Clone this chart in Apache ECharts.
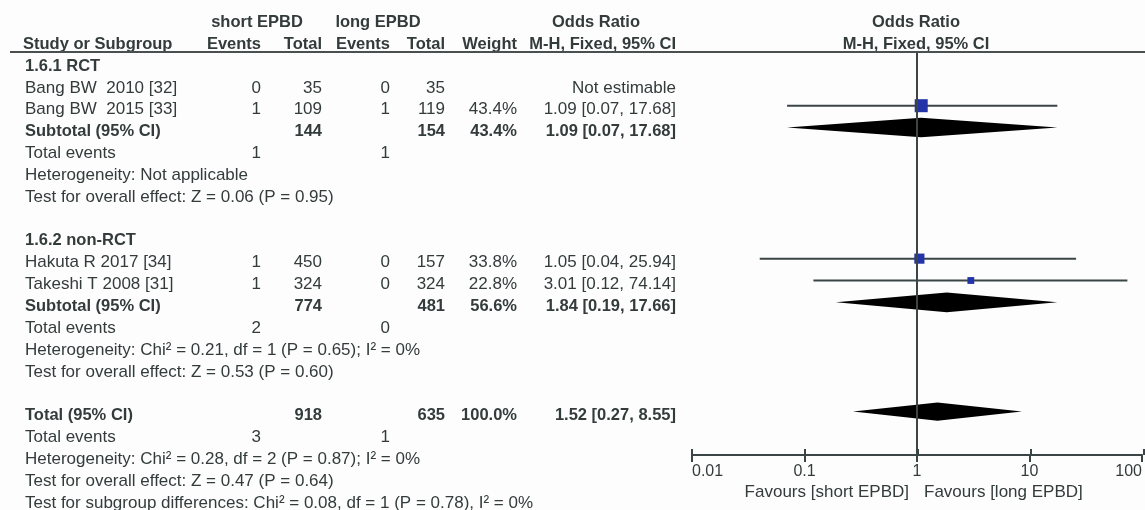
<!DOCTYPE html>
<html>
<head>
<meta charset="utf-8">
<script src="https://cdn.jsdelivr.net/npm/echarts@6/dist/echarts.min.js"></script>
<style>
  html, body { margin: 0; padding: 0; background: #fdfdfd; }
  #chart { width: 1145px; height: 510px; }
</style>
</head>
<body>
<div id="chart"></div>
<script>
// ---------------- data ----------------
const studyNames   = ['Bang BW  2010 [32]', 'Bang BW  2015 [33]', 'Hakuta R 2017 [34]', 'Takeshi T 2008 [31]'];
const studyRows    = [1, 2, 9, 10];
const shortEvents  = [0, 1, 1, 1];
const shortTotals  = [35, 109, 450, 324];
const longEvents   = [0, 1, 0, 0];
const longTotals   = [35, 119, 157, 324];
const studyWeights = [null, 43.4, 33.8, 22.8];
const studyOR      = [null, 1.09, 1.05, 3.01];
const studyLow     = [null, 0.07, 0.04, 0.12];
const studyHigh    = [null, 17.68, 25.94, 74.14];

const pooledNames       = ['Subtotal (95% CI)', 'Subtotal (95% CI)', 'Total (95% CI)'];
const pooledRows        = [3, 11, 16];
const pooledShortTotals = [144, 774, 918];
const pooledLongTotals  = [154, 481, 635];
const pooledWeights     = [43.4, 56.6, 100.0];
const pooledOR          = [1.09, 1.84, 1.52];
const pooledLow         = [0.07, 0.19, 0.27];
const pooledHigh        = [17.68, 17.66, 8.55];

const eventRows  = [4, 12, 17];
const eventShort = [1, 2, 3];
const eventLong  = [1, 0, 1];

const groupNames = ['1.6.1 RCT', '1.6.2 non-RCT'];
const groupRows  = [0, 8];

const noteTexts = [
  'Heterogeneity: Not applicable',
  'Test for overall effect: Z = 0.06 (P = 0.95)',
  'Heterogeneity: Chi\u00b2 = 0.21, df = 1 (P = 0.65); I\u00b2 = 0%',
  'Test for overall effect: Z = 0.53 (P = 0.60)',
  'Heterogeneity: Chi\u00b2 = 0.28, df = 2 (P = 0.87); I\u00b2 = 0%',
  'Test for overall effect: Z = 0.47 (P = 0.64)',
  'Test for subgroup differences: Chi\u00b2 = 0.08, df = 1 (P = 0.78), I\u00b2 = 0%'
];
const noteRows = [5, 6, 13, 14, 18, 19, 20];

const tickLabels = ['0.01', '0.1', '1', '10', '100'];
const favourLabels = ['Favours [short EPBD]', 'Favours [long EPBD]'];

// ---------------- layout ----------------
const W = 1145, H = 510;
const ROW_H = 21.85, ROW0 = 62, TEXT_DY = 4;
const COL = { label: 25, sEv: 261, sTot: 322, lEv: 390, lTot: 445, weight: 517, ci: 676 };
const PLOT = { left: 692, right: 1, top: 52, axisY: 455 };
const TEXT = '#333b3b';
const LINE = '#3b4545';
const FONT = '"Liberation Sans", Arial, sans-serif';

const fmtCI = (o, l, h) => o == null ? 'Not estimable' : `${o.toFixed(2)} [${l.toFixed(2)}, ${h.toFixed(2)}]`;
const fmtW = w => w == null ? '' : `${w.toFixed(1)}%`;

// table text items
const items = [];
function add(x, row, text, align, bold, size) {
  if (text === '' || text == null) return;
  items.push({ x, row, text: String(text), align, bold: !!bold, size: size || (bold ? 16.5 : 17) });
}
// headers
add(257, -2, 'short EPBD', 'center', true);
add(378, -2, 'long EPBD', 'center', true);
add(596, -2, 'Odds Ratio', 'center', true);
add(COL.label - 2, -1, 'Study or Subgroup', 'left', true);
add(COL.sEv, -1, 'Events', 'right', true);
add(COL.sTot, -1, 'Total', 'right', true);
add(COL.lEv, -1, 'Events', 'right', true);
add(COL.lTot, -1, 'Total', 'right', true);
add(COL.weight, -1, 'Weight', 'right', true);
add(COL.ci, -1, 'M-H, Fixed, 95% CI', 'right', true);

groupNames.forEach((g, i) => add(COL.label, groupRows[i], g, 'left', true));
studyNames.forEach((s, i) => {
  const r = studyRows[i];
  add(COL.label, r, s, 'left');
  add(COL.sEv, r, shortEvents[i], 'right');
  add(COL.sTot, r, shortTotals[i], 'right');
  add(COL.lEv, r, longEvents[i], 'right');
  add(COL.lTot, r, longTotals[i], 'right');
  add(COL.weight, r, fmtW(studyWeights[i]), 'right');
  add(COL.ci, r, fmtCI(studyOR[i], studyLow[i], studyHigh[i]), 'right');
});
pooledNames.forEach((s, i) => {
  const r = pooledRows[i];
  add(COL.label, r, s, 'left', true);
  add(COL.sTot, r, pooledShortTotals[i], 'right', true);
  add(COL.lTot, r, pooledLongTotals[i], 'right', true);
  add(COL.weight, r, fmtW(pooledWeights[i]), 'right', true);
  add(COL.ci, r, fmtCI(pooledOR[i], pooledLow[i], pooledHigh[i]), 'right', true);
});
eventRows.forEach((r, i) => {
  add(COL.label, r, 'Total events', 'left');
  add(COL.sEv, r, eventShort[i], 'right');
  add(COL.lEv, r, eventLong[i], 'right');
});
noteTexts.forEach((t, i) => add(COL.label, noteRows[i], t, 'left'));

// forest data
const studyMarks = [];
studyOR.forEach((o, i) => {
  if (o != null) studyMarks.push([o, studyRows[i], studyLow[i], studyHigh[i], studyWeights[i]]);
});
const pooledMarks = pooledOR.map((o, i) => [o, pooledRows[i], pooledLow[i], pooledHigh[i], i === 2 ? 9.2 : 9.8]);

const tableYMin = -ROW0 / ROW_H, tableYMax = (H - ROW0) / ROW_H;
const plotYMin = (PLOT.top - ROW0) / ROW_H, plotYMax = (PLOT.axisY - ROW0) / ROW_H;

const plotGrid = { left: PLOT.left, right: PLOT.right, top: PLOT.top, bottom: H - PLOT.axisY };

const chart = echarts.init(document.getElementById('chart'), null, { renderer: 'canvas' });
chart.setOption({
  animation: false,
  backgroundColor: '#fdfdfd',
  grid: [
    { left: 0, right: 0, top: 0, bottom: 0 },
    Object.assign({}, plotGrid),
    Object.assign({}, plotGrid)
  ],
  xAxis: [
    { gridIndex: 0, type: 'value', min: 0, max: W, show: false },
    {
      gridIndex: 1, type: 'log', logBase: 10, min: 0.01, max: 100, position: 'bottom',
      axisLine: { show: true, onZero: false, lineStyle: { color: LINE, width: 2 } },
      axisTick: { show: true, length: 7, lineStyle: { color: LINE, width: 2 } },
      minorTick: { show: false },
      splitLine: { show: false },
      axisLabel: {
        show: true, margin: 9, color: TEXT, fontSize: 16, fontFamily: FONT,
        alignMinLabel: 'left', alignMaxLabel: 'right',
        formatter: (v, idx) => tickLabels[idx]
      }
    },
    {
      gridIndex: 2, type: 'log', logBase: 10, min: 0.01, max: 100, position: 'bottom',
      axisLine: { show: false, onZero: false },
      axisTick: { show: true, inside: true, length: 6, lineStyle: { color: LINE, width: 2 } },
      minorTick: { show: false },
      splitLine: { show: false },
      axisLabel: { show: false }
    }
  ],
  yAxis: [
    { gridIndex: 0, type: 'value', inverse: true, min: tableYMin, max: tableYMax, show: false },
    { gridIndex: 1, type: 'value', inverse: true, min: plotYMin, max: plotYMax, show: false },
    { gridIndex: 2, type: 'value', inverse: true, min: plotYMin, max: plotYMax, show: false }
  ],
  graphic: [
    { type: 'line', shape: { x1: 10, y1: PLOT.top, x2: W, y2: PLOT.top }, style: { stroke: '#4a5050', lineWidth: 2 }, z: 10 }
  ],
  series: [
    {
      type: 'custom', xAxisIndex: 0, yAxisIndex: 0,
      data: items.map(d => [d.x, d.row]),
      renderItem: (params, api) => {
        const d = items[params.dataIndex];
        const p = api.coord([api.value(0), api.value(1)]);
        return {
          type: 'text', x: p[0], y: p[1] + TEXT_DY,
          style: {
            text: d.text, align: d.align, verticalAlign: 'middle',
            fontFamily: FONT, fontSize: d.size, fontWeight: d.bold ? 'bold' : 'normal', fill: TEXT
          }
        };
      }
    },
    {
      // keeps the inside-tick helper axis alive
      type: 'custom', xAxisIndex: 2, yAxisIndex: 2,
      data: [[1, 0]],
      renderItem: () => ({ type: 'group', children: [] })
    },
    {
      // right-side header
      type: 'custom', xAxisIndex: 1, yAxisIndex: 1, clip: false,
      data: [[1, -2, 'Odds Ratio'], [1, -1, 'M-H, Fixed, 95% CI']],
      renderItem: (params, api) => {
        const p = api.coord([api.value(0), api.value(1)]);
        return {
          type: 'text', x: p[0] - 1, y: p[1] + TEXT_DY,
          style: {
            text: api.value(2), align: 'center', verticalAlign: 'middle',
            fontFamily: FONT, fontSize: 16.5, fontWeight: 'bold', fill: TEXT
          }
        };
      }
    },
    {
      // null line + study CIs and squares
      type: 'custom', xAxisIndex: 1, yAxisIndex: 1, clip: false, z: 3,
      data: studyMarks,
      markLine: {
        silent: true, symbol: 'none', label: { show: false },
        lineStyle: { color: LINE, width: 2, type: 'solid' },
        data: [{ xAxis: 1 }]
      },
      renderItem: (params, api) => {
        const o = api.value(0), r = api.value(1), lo = api.value(2), hi = api.value(3), w = api.value(4);
        const c = api.coord([o, r]);
        const a = api.coord([lo, r]);
        const b = api.coord([hi, r]);
        const s = w * 0.3;
        return {
          type: 'group',
          children: [
            { type: 'line', shape: { x1: a[0], y1: a[1], x2: b[0], y2: b[1] }, style: { stroke: LINE, lineWidth: 2 } },
            { type: 'rect', shape: { x: c[0] - s / 2, y: c[1] - s / 2, width: s, height: s }, style: { fill: '#2234a8' } }
          ]
        };
      }
    },
    {
      // pooled diamonds
      type: 'custom', xAxisIndex: 1, yAxisIndex: 1, clip: false, z: 4,
      data: pooledMarks,
      renderItem: (params, api) => {
        const o = api.value(0), r = api.value(1), lo = api.value(2), hi = api.value(3), hh = api.value(4);
        const c = api.coord([o, r]);
        const a = api.coord([lo, r]);
        const b = api.coord([hi, r]);
        return {
          type: 'polygon',
          shape: { points: [[a[0], a[1]], [c[0], c[1] - hh], [b[0], b[1]], [c[0], c[1] + hh]] },
          style: { fill: '#000000' }
        };
      }
    },
    {
      // favours labels under the axis
      type: 'custom', xAxisIndex: 1, yAxisIndex: 1, clip: false,
      data: [[1, plotYMax, 0], [1, plotYMax, 1]],
      renderItem: (params, api) => {
        const p = api.coord([api.value(0), api.value(1)]);
        const i = api.value(2);
        return {
          type: 'text', x: i === 0 ? p[0] - 8 : p[0] + 7, y: p[1] + 37,
          style: {
            text: favourLabels[i], align: i === 0 ? 'right' : 'left', verticalAlign: 'middle',
            fontFamily: FONT, fontSize: 17, fill: TEXT
          }
        };
      }
    }
  ]
});
</script>
</body>
</html>
